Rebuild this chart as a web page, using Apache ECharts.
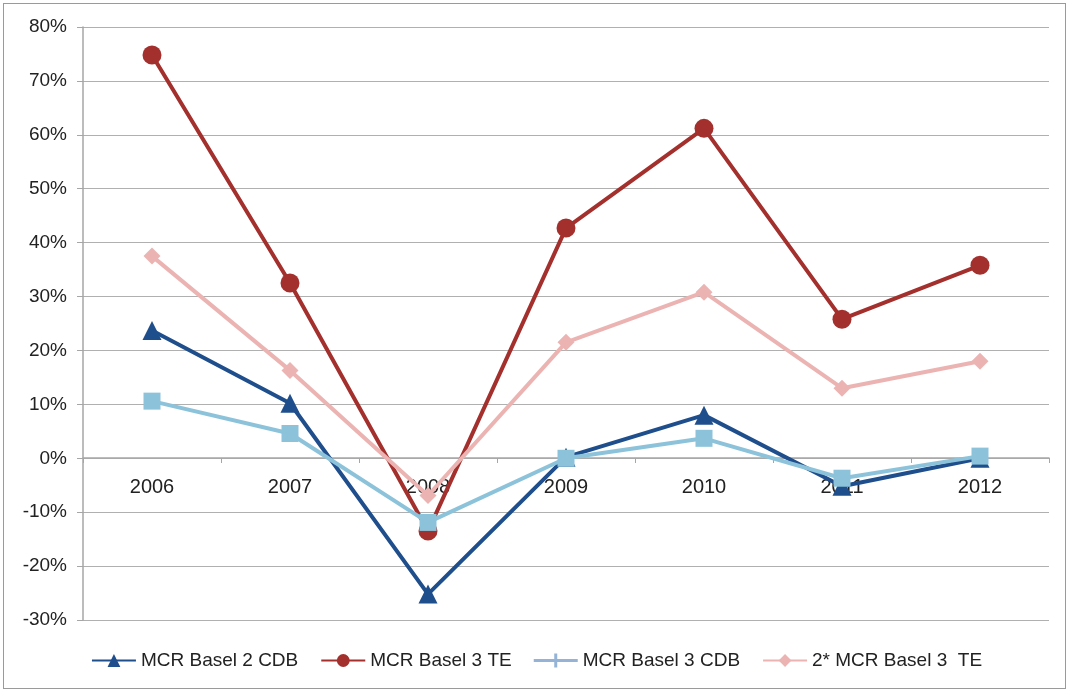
<!DOCTYPE html>
<html>
<head>
<meta charset="utf-8">
<script src="https://cdn.jsdelivr.net/npm/echarts@6/dist/echarts.min.js"></script>
<style>
  html, body { margin: 0; padding: 0; background: #fff; }
  #frame {
    position: absolute; left: 3px; top: 3px; width: 1063px; height: 686px;
    border: 1.5px solid #9a9a9a; box-sizing: border-box;
  }
  #main { width: 1073px; height: 694px; }
</style>
</head>
<body>
<div id="frame"></div>
<div id="main"></div>
<script>
const years = ["2006", "2007", "2008", "2009", "2010", "2011", "2012"];
const basel2Cdb = [23.7, 10.2, -25.2, 0.2, 8.0, -5.2, 0.0];
const basel3Te = [74.8, 32.5, -13.5, 42.7, 61.2, 25.8, 35.8];
const basel3Cdb = [10.6, 4.6, -11.9, 0.0, 3.7, -3.7, 0.4];
const twiceBasel3Te = [37.5, 16.3, -6.9, 21.5, 30.8, 13.0, 18.0];

const myChart = echarts.init(document.getElementById("main"));

// line with a plus marker, drawn in a 44x14 box
const plusLine = "path://M0,5.5 H20.5 V0 H23.5 V5.5 H44 V8.5 H23.5 V14 H20.5 V8.5 H0 Z";

myChart.setOption({
  animation: false,
  textStyle: { fontFamily: "Liberation Sans, Arial, sans-serif" },
  grid: { left: 83, right: 24, top: 27, bottom: 74 },
  legend: {
    bottom: 19,
    left: "center",
    itemWidth: 44,
    itemHeight: 16,
    itemGap: 22,
    textStyle: { fontSize: 19, color: "#222" },
    data: [
      { name: "MCR Basel 2 CDB" },
      { name: "MCR Basel 3 TE" },
      {
        name: "MCR Basel 3 CDB",
        icon: plusLine,
        itemStyle: { color: "#95b3d7" }
      },
      { name: "2* MCR Basel 3  TE" }
    ]
  },
  xAxis: {
    type: "category",
    data: years,
    boundaryGap: true,
    position: "bottom",
    offset: -162,
    axisLine: { onZero: false, lineStyle: { color: "#a6a6a6", width: 1.5 } },
    axisTick: { show: true, length: 5, lineStyle: { color: "#a6a6a6" } },
    axisLabel: { fontSize: 20, color: "#222", margin: 19 },
    splitLine: { show: false }
  },
  yAxis: {
    type: "value",
    min: -30,
    max: 80,
    interval: 10,
    axisLine: { show: true, lineStyle: { color: "#a6a6a6", width: 1.5 } },
    axisTick: { show: true, length: 6, lineStyle: { color: "#a6a6a6" } },
    axisLabel: { fontSize: 19, color: "#222", margin: 16, formatter: "{value}%" },
    splitLine: { lineStyle: { color: "#b0b0b0", width: 1.2 } }
  },
  series: [
    {
      name: "MCR Basel 2 CDB",
      type: "line",
      data: basel2Cdb,
      z: 4,
      color: "#1f4e8c",
      symbol: "triangle",
      symbolSize: 19,
      lineStyle: { width: 4 }
    },
    {
      name: "MCR Basel 3 TE",
      type: "line",
      data: basel3Te,
      z: 2,
      color: "#a3302d",
      symbol: "circle",
      symbolSize: 19,
      lineStyle: { width: 4 }
    },
    {
      name: "MCR Basel 3 CDB",
      type: "line",
      data: basel3Cdb,
      z: 5,
      color: "#8cc3da",
      symbol: "rect",
      symbolSize: 17,
      lineStyle: { width: 4 }
    },
    {
      name: "2* MCR Basel 3  TE",
      type: "line",
      data: twiceBasel3Te,
      z: 3,
      color: "#ebb4b2",
      symbol: "diamond",
      symbolSize: 17,
      lineStyle: { width: 4 }
    }
  ]
});
</script>
</body>
</html>
